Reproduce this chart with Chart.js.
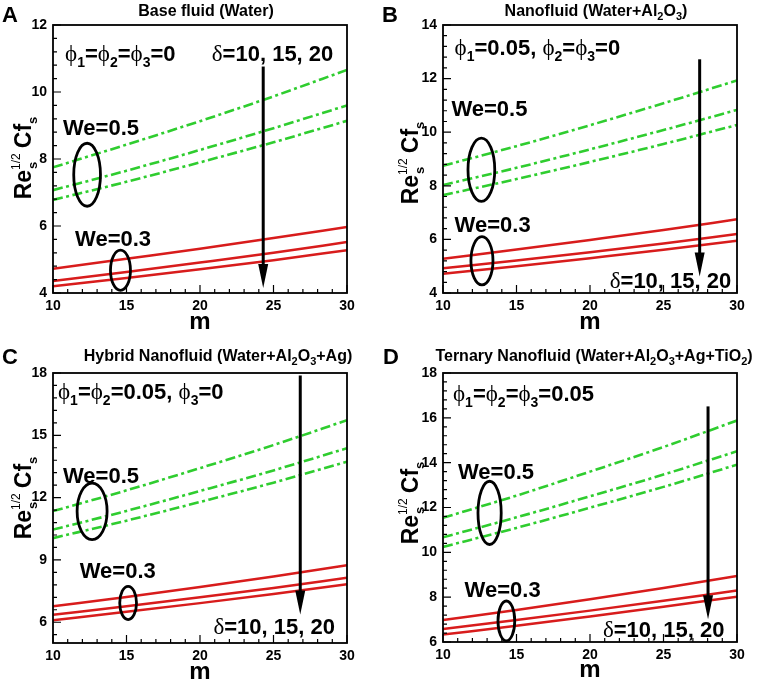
<!DOCTYPE html>
<html>
<head>
<meta charset="utf-8">
<script src="https://cdn.jsdelivr.net/npm/chart.js@4.4.0/dist/chart.umd.min.js"></script>
<style>
  body { margin: 0; background: #fff; }
  #wrap { position: relative; width: 761px; height: 682px; overflow: hidden; }
  canvas { position: absolute; }
</style>
</head>
<body>
<div id="wrap">
  <canvas id="chartA" width="380" height="340" style="left:0;top:0"></canvas>
  <canvas id="chartB" width="381" height="340" style="left:380px;top:0"></canvas>
  <canvas id="chartC" width="380" height="342" style="left:0;top:340px"></canvas>
  <canvas id="chartD" width="381" height="342" style="left:380px;top:340px"></canvas>
</div>
<script>
const mValues = [10, 15, 20, 25, 30];
const xTicks = [10, 15, 20, 25, 30];
const deltaLabels = ["δ=10", "δ=15", "δ=20"];

// each group: delta = 10, 15, 20 (top to bottom)
const waterWe05 = [
  [7.75, 8.43, 9.13, 9.87, 10.66],
  [7.07, 7.65, 8.27, 8.92, 9.60],
  [6.78, 7.32, 7.90, 8.50, 9.14],
];
const waterWe03 = [
  [4.72, 5.02, 5.32, 5.64, 5.97],
  [4.36, 4.63, 4.91, 5.20, 5.52],
  [4.20, 4.45, 4.71, 4.98, 5.28],
];
const waterYTicks = [4, 6, 8, 10, 12];
const waterYRange = [4, 12];

const nanoWe05 = [
  [8.75, 9.48, 10.26, 11.08, 11.93],
  [8.03, 8.67, 9.36, 10.08, 10.83],
  [7.65, 8.25, 8.89, 9.56, 10.27],
];
const nanoWe03 = [
  [5.28, 5.62, 5.98, 6.35, 6.75],
  [4.92, 5.21, 5.52, 5.85, 6.20],
  [4.72, 5.00, 5.30, 5.61, 5.95],
];
const nanoYTicks = [4, 6, 8, 10, 12, 14];
const nanoYRange = [4, 14];

const hybridWe05 = [
  [11.35, 12.35, 13.42, 14.53, 15.73],
  [10.46, 11.36, 12.32, 13.31, 14.38],
  [10.05, 10.89, 11.79, 12.72, 13.73],
];
const hybridWe03 = [
  [6.77, 7.22, 7.70, 8.20, 8.74],
  [6.36, 6.77, 7.20, 7.65, 8.14],
  [6.10, 6.50, 6.92, 7.36, 7.83],
];
const hybridYTicks = [6, 9, 12, 15, 18];
const hybridYRange = [5, 18];

const ternaryWe05 = [
  [11.54, 12.53, 13.60, 14.70, 15.88],
  [10.67, 11.56, 12.50, 13.47, 14.51],
  [10.24, 11.09, 11.99, 12.92, 13.91],
];
const ternaryWe03 = [
  [6.98, 7.43, 7.91, 8.41, 8.95],
  [6.58, 6.98, 7.40, 7.84, 8.30],
  [6.33, 6.72, 7.14, 7.57, 8.02],
];
const ternaryYTicks = [6, 8, 10, 12, 14, 16, 18];
const ternaryYRange = [6, 18];

const GREEN = "#2fcd2f";
const RED = "#d81c1c";
const SANS = '"Liberation Sans", Arial, sans-serif';
const SERIF = '"Liberation Serif", "DejaVu Serif", serif';
const MAIN_FONT = "bold 22px " + SANS;
const SUB_FONT = "bold 14px " + SANS;
const GREEK_FONT = "23px " + SERIF;
const TITLE_FONT = "bold 16px " + SANS;
const TITLE_SUB = "bold 11px " + SANS;

// text pieces: [text, font, baseline shift]
const t = (s) => [s, MAIN_FONT, 0];
const sub = (s) => [s, SUB_FONT, 6];
const phi = () => ["ϕ", GREEK_FONT, 0];
const ts = (s) => [s, TITLE_FONT, 0];
const tsub = (s) => [s, TITLE_SUB, 4];

const deltaText = [["δ", GREEK_FONT, 0], t("=10, 15, 20")];
const we05Text = [t("We=0.5")];
const we03Text = [t("We=0.3")];

function drawRich(ctx, x, y, segs, align) {
  let w = 0;
  segs.forEach((s) => { ctx.font = s[1]; w += ctx.measureText(s[0]).width; });
  let cx = align === "center" ? x - w / 2 : x;
  ctx.textAlign = "left";
  ctx.textBaseline = "alphabetic";
  segs.forEach((s) => {
    ctx.font = s[1];
    ctx.fillText(s[0], cx, y + s[2]);
    cx += ctx.measureText(s[0]).width;
  });
}

const panels = [
  {
    id: "chartA", w: 380, h: 340,
    box: { left: 53, right: 347, top: 25, bottom: 293 },
    we05: waterWe05, we03: waterWe03, yTicks: waterYTicks, yRange: waterYRange, yMinor: 0.4,
    letter: "A", letterPos: [2, 22],
    title: [ts("Base fluid (Water)")], titlePos: [206, 16],
    yTitlePos: [31, 158], xTitleY: 329,
    texts: [
      { segs: [phi(), sub("1"), t("="), phi(), sub("2"), t("="), phi(), sub("3"), t("=0")], x: 10.82, y: 11.16 },
      { segs: deltaText, x: 20.8, y: 11.16 },
      { segs: we05Text, x: 10.68, y: 8.96 },
      { segs: we03Text, x: 11.5, y: 5.64 },
    ],
    ellipses: [[12.32, 7.53, 0.91, 0.94], [14.59, 4.68, 0.68, 0.6]],
    arrow: [24.3, 10.76, 4.15],
  },
  {
    id: "chartB", w: 381, h: 340,
    box: { left: 63, right: 357, top: 25, bottom: 293 },
    we05: nanoWe05, we03: nanoWe03, yTicks: nanoYTicks, yRange: nanoYRange, yMinor: 0.4,
    letter: "B", letterPos: [2, 22],
    title: [ts("Nanofluid (Water+Al"), tsub("2"), ts("O"), tsub("3"), ts(")")], titlePos: [216, 16],
    yTitlePos: [38, 163], xTitleY: 329,
    texts: [
      { segs: [phi(), sub("1"), t("=0.05, "), phi(), sub("2"), t("="), phi(), sub("3"), t("=0")], x: 10.79, y: 13.19 },
      { segs: we05Text, x: 10.57, y: 10.89 },
      { segs: we03Text, x: 10.79, y: 6.58 },
      { segs: deltaText, x: 21.34, y: 4.5 },
    ],
    ellipses: [[12.61, 8.6, 0.91, 1.18], [12.65, 5.2, 0.75, 0.9]],
    arrow: [27.46, 12.72, 4.62],
  },
  {
    id: "chartC", w: 380, h: 342,
    box: { left: 53, right: 347, top: 33, bottom: 303 },
    we05: hybridWe05, we03: hybridWe03, yTicks: hybridYTicks, yRange: hybridYRange, yMinor: 0.6,
    letter: "C", letterPos: [2, 24],
    title: [ts("Hybrid Nanofluid (Water+Al"), tsub("2"), ts("O"), tsub("3"), ts("+Ag)")], titlePos: [218, 21],
    yTitlePos: [31, 158], xTitleY: 339,
    texts: [
      { segs: [phi(), sub("1"), t("="), phi(), sub("2"), t("=0.05, "), phi(), sub("3"), t("=0")], x: 10.34, y: 17.12 },
      { segs: we05Text, x: 10.68, y: 13.11 },
      { segs: we03Text, x: 11.82, y: 8.53 },
      { segs: deltaText, x: 20.91, y: 5.81 },
    ],
    ellipses: [[12.66, 11.34, 1.02, 1.36], [15.11, 6.93, 0.57, 0.8]],
    arrow: [26.82, 17.88, 6.37],
  },
  {
    id: "chartD", w: 381, h: 342,
    box: { left: 63, right: 357, top: 33, bottom: 302 },
    we05: ternaryWe05, we03: ternaryWe03, yTicks: ternaryYTicks, yRange: ternaryYRange, yMinor: 0.4,
    letter: "D", letterPos: [3, 24],
    title: [ts("Ternary Nanofluid (Water+Al"), tsub("2"), ts("O"), tsub("3"), ts("+Ag+TiO"), tsub("2"), ts(")")], titlePos: [214, 21],
    yTitlePos: [38, 163], xTitleY: 337,
    texts: [
      { segs: [phi(), sub("1"), t("="), phi(), sub("2"), t("="), phi(), sub("3"), t("=0.05")], x: 10.68, y: 17.11 },
      { segs: we05Text, x: 11.02, y: 13.62 },
      { segs: we03Text, x: 11.47, y: 8.38 },
      { segs: deltaText, x: 20.88, y: 6.59 },
    ],
    ellipses: [[13.17, 11.76, 0.79, 1.41], [14.31, 6.94, 0.57, 0.89]],
    arrow: [28.03, 16.51, 7.01],
  },
];

// frame, inward ticks, titles and annotations
const decorPlugin = {
  id: "decor",
  afterDraw(chart) {
    const p = chart.options.plugins.decor.panel;
    const ctx = chart.ctx;
    const xs = chart.scales.x, ys = chart.scales.y;
    const a = chart.chartArea;
    ctx.save();
    ctx.strokeStyle = "#000";
    ctx.fillStyle = "#000";

    // frame
    ctx.lineWidth = 1.8;
    ctx.strokeRect(a.left, a.top, a.right - a.left, a.bottom - a.top);

    // ticks (inside)
    ctx.lineWidth = 1.2;
    ctx.beginPath();
    for (let m = xs.min; m <= xs.max + 1e-9; m += 1) {
      const px = xs.getPixelForValue(m);
      const len = xTicks.includes(m) ? 8 : 4;
      ctx.moveTo(px, a.bottom); ctx.lineTo(px, a.bottom - len);
    }
    const major = p.yTicks[1] - p.yTicks[0];
    for (let v = p.yTicks[0]; v >= ys.min - 1e-9; v -= p.yMinor) {
      const py = ys.getPixelForValue(v);
      ctx.moveTo(a.left, py); ctx.lineTo(a.left + 4, py);
    }
    for (let v = p.yTicks[0]; v <= ys.max + 1e-9; v += p.yMinor) {
      const py = ys.getPixelForValue(v);
      const isMajor = Math.abs((v - p.yTicks[0]) / major - Math.round((v - p.yTicks[0]) / major)) < 1e-6;
      ctx.moveTo(a.left, py); ctx.lineTo(a.left + (isMajor ? 8 : 4), py);
    }
    ctx.stroke();

    // panel letter and title
    ctx.font = "bold 22px " + SANS;
    ctx.textAlign = "left";
    ctx.textBaseline = "alphabetic";
    ctx.fillText(p.letter, p.letterPos[0], p.letterPos[1]);
    drawRich(ctx, p.titlePos[0], p.titlePos[1], p.title, "center");

    // axis titles
    ctx.font = "bold 24px " + SANS;
    ctx.textAlign = "center";
    ctx.fillText("m", (a.left + a.right) / 2, p.xTitleY);

    ctx.save();
    ctx.translate(p.yTitlePos[0], p.yTitlePos[1]);
    ctx.rotate(-Math.PI / 2);
    const big = "bold 23px " + SANS, small = "bold 13px " + SANS, sup = "12px " + SANS;
    ctx.font = big; const wRe = ctx.measureText("Re").width; const wCf = ctx.measureText("Cf").width;
    ctx.font = sup; const wHalf = ctx.measureText("1/2").width;
    ctx.font = small; const wS = ctx.measureText("s").width;
    const gap = 5;
    const total = wRe + wHalf + gap + wCf + wS;
    let u = -total / 2;
    ctx.textAlign = "left";
    ctx.font = big; ctx.fillText("Re", u, 0); u += wRe;
    ctx.font = small; ctx.fillText("s", u + 1, 6);
    ctx.font = sup; ctx.fillText("1/2", u, -11); u += wHalf + gap;
    ctx.font = big; ctx.fillText("Cf", u, 0); u += wCf;
    ctx.font = small; ctx.fillText("s", u, 6);
    ctx.restore();

    // annotation texts
    p.texts.forEach((tx) => {
      drawRich(ctx, xs.getPixelForValue(tx.x), ys.getPixelForValue(tx.y) + 8, tx.segs, "left");
    });

    // ellipses
    ctx.lineWidth = 2.8;
    p.ellipses.forEach((e) => {
      const cx = xs.getPixelForValue(e[0]), cy = ys.getPixelForValue(e[1]);
      const rx = xs.getPixelForValue(e[0] + e[2]) - cx;
      const ry = cy - ys.getPixelForValue(e[1] + e[3]);
      ctx.beginPath();
      ctx.ellipse(cx, cy, rx, ry, 0, 0, Math.PI * 2);
      ctx.stroke();
    });

    // arrow
    const ax = xs.getPixelForValue(p.arrow[0]);
    const ay0 = ys.getPixelForValue(p.arrow[1]);
    const ay1 = ys.getPixelForValue(p.arrow[2]);
    ctx.lineWidth = 3;
    ctx.beginPath();
    ctx.moveTo(ax, ay0); ctx.lineTo(ax, ay1 - 20);
    ctx.stroke();
    ctx.beginPath();
    ctx.moveTo(ax - 5, ay1 - 24); ctx.lineTo(ax + 5, ay1 - 24); ctx.lineTo(ax, ay1);
    ctx.closePath();
    ctx.fill();
    ctx.restore();
  },
};

function makeChart(p) {
  const datasets = [];
  p.we05.forEach((vals, i) => datasets.push({
    label: "We=0.5, " + deltaLabels[i],
    data: mValues.map((m, j) => ({ x: m, y: vals[j] })),
    borderColor: GREEN, borderWidth: 2.6, borderDash: [10, 3.5, 3, 3.5],
    pointRadius: 0, tension: 0.4, cubicInterpolationMode: "monotone", fill: false,
  }));
  p.we03.forEach((vals, i) => datasets.push({
    label: "We=0.3, " + deltaLabels[i],
    data: mValues.map((m, j) => ({ x: m, y: vals[j] })),
    borderColor: RED, borderWidth: 2.5,
    pointRadius: 0, tension: 0.4, cubicInterpolationMode: "monotone", fill: false,
  }));

  const tickFont = { family: SANS, size: 14, weight: "bold" };
  new Chart(document.getElementById(p.id), {
    type: "line",
    data: { datasets },
    options: {
      responsive: false,
      animation: false,
      events: [],
      layout: { padding: { top: p.box.top, right: p.w - p.box.right, left: 0, bottom: 0 } },
      plugins: { legend: { display: false }, tooltip: { enabled: false }, decor: { panel: p } },
      scales: {
        x: {
          type: "linear", min: 10, max: 30,
          afterBuildTicks: (s) => { s.ticks = xTicks.map((v) => ({ value: v })); },
          afterFit: (s) => { s.height = p.h - p.box.bottom; },
          grid: { display: false, drawTicks: false },
          border: { display: false },
          ticks: { color: "#000", font: tickFont, padding: 5, maxRotation: 0 },
        },
        y: {
          type: "linear", min: p.yRange[0], max: p.yRange[1],
          afterBuildTicks: (s) => { s.ticks = p.yTicks.map((v) => ({ value: v })); },
          afterFit: (s) => { s.width = p.box.left; },
          grid: { display: false, drawTicks: false },
          border: { display: false },
          ticks: { color: "#000", font: tickFont, padding: 6 },
        },
      },
    },
    plugins: [decorPlugin],
  });
}

panels.forEach(makeChart);
</script>
</body>
</html>
